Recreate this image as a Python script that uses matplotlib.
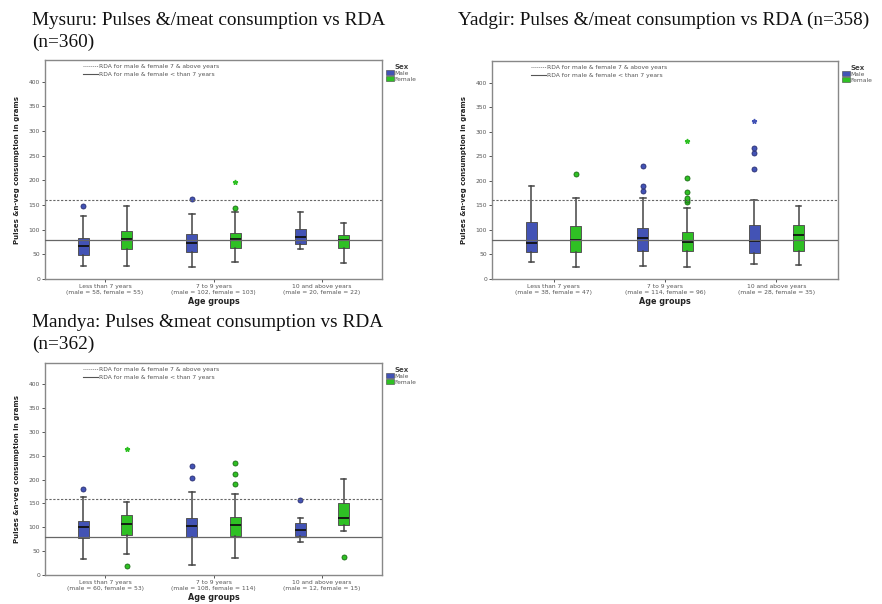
import matplotlib
matplotlib.use('Agg')
import matplotlib.pyplot as plt
from matplotlib.lines import Line2D
from matplotlib.patches import Patch

# ---------------- data ----------------
groups = ["Less than 7 years", "7 to 9 years", "10 and above years"]
rda_low = 80      # RDA < than 7 years
rda_high = 160    # RDA 7 & above years
y_ticks = [0, 50, 100, 150, 200, 250, 300, 350, 400]

mysuru_n = ["(male = 58, female = 55)", "(male = 102, female = 103)", "(male = 20, female = 22)"]
# [whisker low, q1, median, q3, whisker high]
mysuru_male = [[26, 49, 67, 84, 128], [24, 55, 72, 91, 131], [61, 70, 86, 102, 136]]
mysuru_female = [[27, 61, 81, 97, 149], [34, 63, 81, 94, 135], [32, 63, 79, 89, 114]]
mysuru_male_out = [[147], [162], []]
mysuru_female_out = [[], [143], []]
mysuru_male_ext = [[], [], []]
mysuru_female_ext = [[], [197], []]

yadgir_n = ["(male = 38, female = 47)", "(male = 114, female = 96)", "(male = 28, female = 35)"]
yadgir_male = [[34, 55, 74, 117, 189], [26, 58, 84, 104, 165], [30, 52, 77, 111, 160]]
yadgir_female = [[24, 54, 79, 108, 165], [24, 58, 76, 96, 145], [28, 57, 89, 109, 149]]
yadgir_male_out = [[], [179, 190, 230], [224, 256, 266]]
yadgir_female_out = [[213], [156, 160, 164, 178, 206], []]
yadgir_male_ext = [[], [], [321]]
yadgir_female_ext = [[], [282], []]

mandya_n = ["(male = 60, female = 53)", "(male = 108, female = 114)", "(male = 12, female = 15)"]
mandya_male = [[34, 78, 101, 114, 164], [21, 80, 102, 120, 173], [70, 82, 95, 108, 120]]
mandya_female = [[45, 84, 107, 126, 152], [35, 82, 104, 121, 169], [92, 105, 120, 150, 202]]
mandya_male_out = [[180], [203, 229], [157]]
mandya_female_out = [[19], [190, 211, 234], [38]]
mandya_male_ext = [[], [], []]
mandya_female_ext = [[264], [], []]

# ---------------- style ----------------
W, H = 882, 604
MALE_C = '#4353b5'
FEMALE_C = '#2fc024'
MALE_EDGE = '#2a2f70'
FEMALE_EDGE = '#1a6a14'
SERIF = 'Liberation Serif'

fig = plt.figure(figsize=(W / 100, H / 100), dpi=100)


def add_ax(l, t, r, b):
    return fig.add_axes([l / W, 1 - b / H, (r - l) / W, (b - t) / H])


def panel(ax, male, female, male_out, female_out, male_ext, female_ext, ns):
    series = [(male, male_out, male_ext, -0.2, MALE_C, MALE_EDGE),
              (female, female_out, female_ext, 0.2, FEMALE_C, FEMALE_EDGE)]
    for src, out, ext, off, col, ecol in series:
        stats = [dict(whislo=s[0], q1=s[1], med=s[2], q3=s[3], whishi=s[4], fliers=[])
                 for s in src]
        pos = [i + off for i in range(len(stats))]
        ax.bxp(stats, positions=pos, widths=0.1, patch_artist=True, showfliers=False,
               manage_ticks=False,
               boxprops=dict(facecolor=col, edgecolor='#555555', linewidth=0.7),
               medianprops=dict(color='#111111', linewidth=1.3),
               whiskerprops=dict(color='#444444', linewidth=1.1),
               capprops=dict(color='#444444', linewidth=1.1))
        for p, vals in zip(pos, out):
            ax.plot([p] * len(vals), vals, 'o', ms=3.6, mfc=col, mec=ecol, mew=0.6,
                    linestyle='none', zorder=4)
        for p, vals in zip(pos, ext):
            ax.plot([p] * len(vals), vals, '*', ms=3.5, color=col, linestyle='none',
                    zorder=4)
    ax.axhline(rda_high, color='#666666', lw=0.8, ls=(0, (2, 1.5)), zorder=5)
    ax.axhline(rda_low, color='#666666', lw=0.9, zorder=5)

    ax.set_xlim(-0.553, 2.553)
    ax.set_ylim(0, 444)
    ax.set_yticks(y_ticks)
    ax.set_xticks(range(len(groups)))
    ax.set_xticklabels([g + "\n" + n for g, n in zip(groups, ns)])
    ax.tick_params(axis='both', labelsize=4.3, colors='#555555', length=2, width=0.7,
                   pad=1.5)
    for sp in ax.spines.values():
        sp.set_color('#888888')
        sp.set_linewidth(1.0)
    ax.set_ylabel("Pulses &n-veg consumption in grams", fontsize=5, fontweight='bold',
                  color='#222222', labelpad=6)
    ax.set_xlabel("Age groups", fontsize=5.8, fontweight='bold', color='#222222',
                  labelpad=2)

    rda_handles = [Line2D([], [], color='#888888', ls=(0, (1, 1)), lw=0.7),
                   Line2D([], [], color='#555555', lw=0.8)]
    leg1 = ax.legend(rda_handles, ["RDA for male & female 7 & above years",
                                   "RDA for male & female < than 7 years"],
                     loc='upper left', bbox_to_anchor=(0.1, 1.0), frameon=False,
                     fontsize=4.3, handlelength=2.6, handletextpad=0.1,
                     labelspacing=0.35, labelcolor='#555555', borderaxespad=0.3)
    ax.add_artist(leg1)
    sex_handles = [Patch(facecolor=MALE_C, edgecolor='#444444', lw=0.4),
                   Patch(facecolor=FEMALE_C, edgecolor='#444444', lw=0.4)]
    leg2 = ax.legend(sex_handles, ["Male", "Female"], title="Sex", loc='upper left',
                     bbox_to_anchor=(1.0, 1.0), frameon=False, fontsize=4.3,
                     title_fontproperties=dict(size=5, weight='bold'),
                     handlelength=1.3, handleheight=0.9, handletextpad=0.15,
                     labelspacing=0.05, borderaxespad=0.3, labelcolor='#555555')
    leg2.get_title().set_color('#444444')


ax1 = add_ax(45, 60, 382, 279)
panel(ax1, mysuru_male, mysuru_female, mysuru_male_out, mysuru_female_out,
      mysuru_male_ext, mysuru_female_ext, mysuru_n)
ax2 = add_ax(492, 61, 838, 279)
panel(ax2, yadgir_male, yadgir_female, yadgir_male_out, yadgir_female_out,
      yadgir_male_ext, yadgir_female_ext, yadgir_n)
ax3 = add_ax(45, 363, 382, 575)
panel(ax3, mandya_male, mandya_female, mandya_male_out, mandya_female_out,
      mandya_male_ext, mandya_female_ext, mandya_n)

fig.text(32 / W, 1 - 12 / H, "Mysuru: Pulses &/meat consumption vs RDA\n(n=360)",
         family=SERIF, fontsize=13.9, va='top', ha='left', linespacing=1.35,
         color='#111111')
fig.text(458 / W, 1 - 12 / H, "Yadgir: Pulses &/meat consumption vs RDA (n=358)",
         family=SERIF, fontsize=13.9, va='top', ha='left', color='#111111')
fig.text(32 / W, 1 - 314 / H, "Mandya: Pulses &meat consumption vs RDA\n(n=362)",
         family=SERIF, fontsize=13.9, va='top', ha='left', linespacing=1.35,
         color='#111111')

fig.savefig('out.png', dpi=100, facecolor='white')
